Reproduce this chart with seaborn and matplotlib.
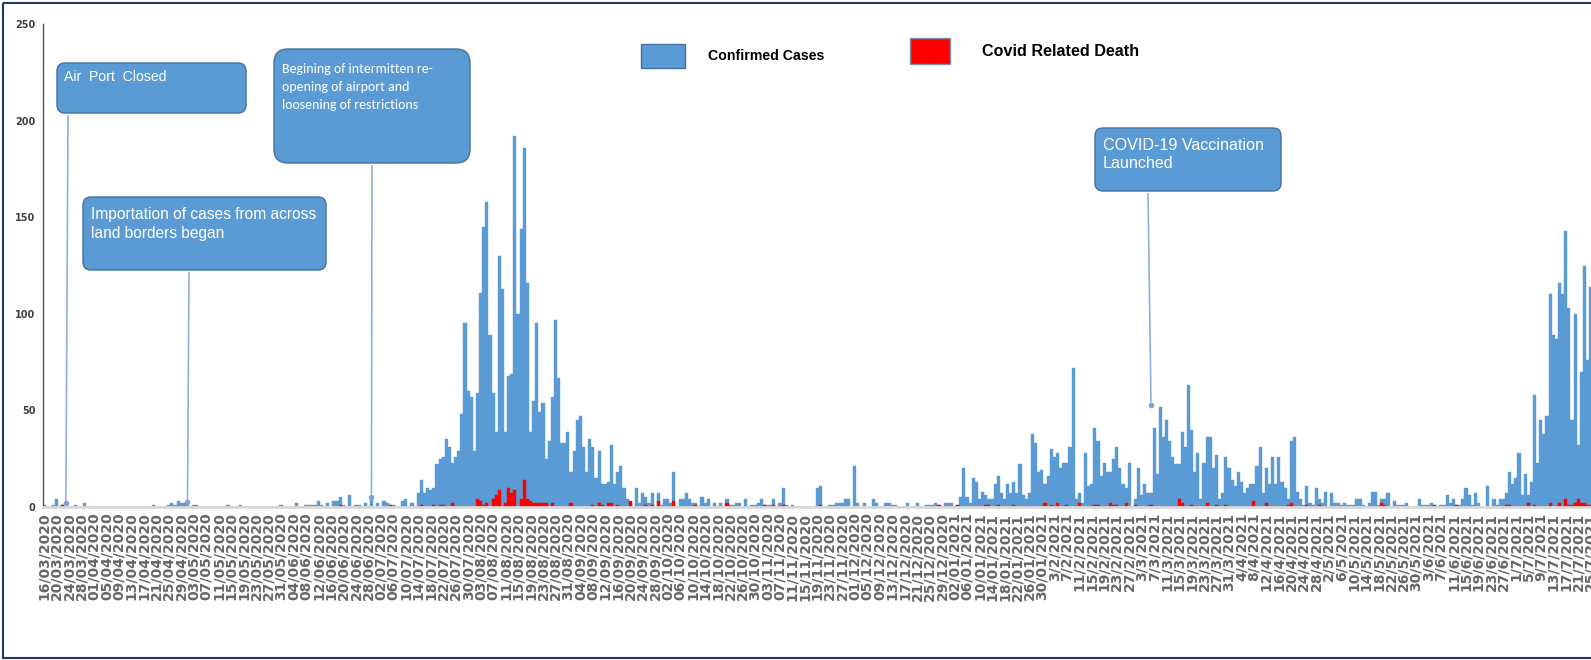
import numpy as np
import pandas as pd
import matplotlib
matplotlib.use("Agg")
import matplotlib.pyplot as plt
from matplotlib import font_manager
import seaborn as sns
from matplotlib.patches import FancyBboxPatch, Rectangle

sns.set_theme(style="white")
plt.rcParams['font.family'] = ['Liberation Sans', 'DejaVu Sans']

BLUE = '#5B9BD5'
BLUE_EDGE = '#41719C'
RED = '#FF0000'
W, H = 1591, 660

installed = {f.name for f in font_manager.fontManager.ttflist}
CALIBRI = 'Carlito' if 'Carlito' in installed else 'Liberation Sans'

# daily confirmed cases, one value per day from 16/03/2020
cases = [
    1, 0, 0, 1, 4, 0, 1, 0, 0, 0, 1, 0, 0, 2, 0, 0, 0, 0, 0, 0,              # 0
    0, 0, 0, 0, 0, 0, 0, 0, 0, 0, 0, 0, 0, 0, 0, 1, 0, 0, 0, 0,              # 20
    1, 2, 1, 3, 2, 2, 1, 0, 1, 1, 0, 0, 0, 0, 0, 0, 0, 0, 0, 1,              # 40
    0, 0, 0, 1, 0, 0, 0, 0, 0, 0, 0, 0, 0, 0, 0, 0, 1, 0, 0, 0,              # 60
    0, 2, 0, 0, 1, 1, 1, 1, 3, 1, 0, 2, 0, 3, 3, 5, 1, 0, 6, 0,              # 80
    1, 1, 0, 2, 0, 4, 0, 2, 0, 3, 2, 1, 1, 0, 0, 3, 4, 0, 2, 0,              # 100
    7, 14, 7, 10, 9, 10, 22, 25, 26, 35, 31, 23, 26, 29, 48, 95, 60, 57, 29, 59,   # 120
    111, 145, 158, 89, 59, 39, 130, 113, 39, 68, 69, 192, 100, 144, 186, 116, 39, 55, 95, 49,  # 140
    54, 25, 34, 57, 97, 67, 33, 33, 39, 18, 29, 45, 47, 31, 18, 35, 31, 15, 29, 12,  # 160
    12, 13, 32, 12, 18, 21, 10, 4, 2, 0, 10, 2, 7, 5, 2, 7, 0, 7, 1, 4,      # 180
    4, 2, 18, 0, 4, 4, 7, 4, 2, 2, 0, 5, 2, 4, 0, 2, 0, 2, 0, 4,             # 200
    1, 1, 2, 2, 0, 4, 0, 1, 1, 2, 4, 1, 1, 1, 4, 0, 2, 10, 1, 0,             # 220
    1, 0, 0, 0, 0, 0, 0, 0, 10, 11, 0, 0, 1, 1, 2, 2, 2, 4, 4, 0,            # 240
    21, 2, 0, 2, 0, 0, 4, 2, 0, 0, 2, 2, 1, 1, 0, 0, 0, 2, 0, 0,             # 260
    2, 0, 0, 1, 1, 1, 2, 1, 0, 2, 2, 2, 0, 1, 5, 20, 5, 2, 15, 13,           # 280
    4, 8, 6, 4, 4, 12, 16, 7, 4, 12, 7, 13, 7, 22, 6, 4, 7, 38, 33, 18,      # 300
    19, 12, 16, 30, 26, 28, 20, 23, 23, 31, 72, 4, 7, 2, 28, 11, 12, 41, 34, 16,   # 320
    23, 18, 18, 25, 31, 20, 12, 10, 23, 0, 4, 20, 6, 12, 7, 7, 41, 17, 52, 36,     # 340
    45, 34, 26, 22, 22, 39, 31, 63, 40, 18, 28, 4, 23, 36, 36, 20, 27, 4, 7, 26,   # 360
    20, 14, 11, 18, 13, 7, 10, 12, 12, 21, 31, 7, 20, 12, 26, 12, 26, 13, 10, 4,   # 380
    34, 36, 8, 4, 1, 11, 2, 1, 10, 4, 2, 8, 0, 7, 2, 2, 1, 2, 1, 1,          # 400
    1, 4, 4, 1, 0, 2, 8, 8, 1, 4, 4, 7, 0, 3, 1, 1, 1, 2, 0, 0,              # 420
    0, 4, 1, 1, 1, 2, 1, 0, 1, 1, 6, 2, 4, 1, 1, 4, 10, 6, 1, 7,             # 440
    2, 0, 0, 11, 0, 4, 1, 4, 4, 7, 18, 12, 15, 28, 6, 17, 6, 13, 58, 23,     # 460
    45, 38, 47, 110, 89, 87, 116, 110, 143, 103, 45, 100, 32, 70, 125, 76, 114,    # 480
]

# covid related deaths: day number (from 16/03/2020) and count
death_days = [6, 95, 111, 121, 125, 127, 128, 131, 139, 140, 141, 142, 144, 145, 146,
              148, 149, 150, 151, 153, 154, 155, 156, 157, 158, 159, 160, 161, 163, 169,
              176, 178, 179, 181, 182, 184, 188, 193, 195, 197, 202, 209, 219, 231, 234,
              237, 249, 287, 293, 302, 303, 306, 311, 321, 323, 325, 328, 332, 337, 338,
              342, 343, 344, 347, 350, 355, 364, 365, 368, 373, 376, 379, 388, 392, 399,
              400, 405, 409, 429, 430, 446, 453, 469, 470, 476, 478, 483, 486, 488, 489,
              490, 491, 492, 493, 494, 495, 496]
death_counts = [1, 1, 1, 1, 1, 1, 1, 2, 4, 3, 1, 2, 4, 6, 9,
                2, 10, 7, 9, 4, 14, 4, 3, 2, 2, 2, 2, 2, 2, 2,
                1, 2, 1, 2, 2, 1, 3, 1, 1, 3, 3, 1, 2, 1, 1,
                1, 1, 1, 1, 1, 1, 1, 1, 2, 1, 2, 1, 2, 1, 1,
                2, 1, 1, 2, 1, 1, 4, 2, 1, 2, 1, 1, 3, 2, 1,
                2, 1, 1, 2, 1, 1, 1, 1, 1, 2, 1, 2, 2, 4, 1,
                1, 2, 4, 2, 2, 1, 1]

y_ticks = [0, 50, 100, 150, 200, 250]

notes = [
    # text, day, value pointed at, box (x, y, w, h) in pixels from top-left,
    # font, size, line spacing, text offset (dx, dy), pointer x
    ("Air  Port  Closed", 7, 2, (57, 63, 189, 50), 'Liberation Sans', 10.1, 1.2, (7, 7), 68),
    ("Importation of cases from across\nland borders began", 46, 2.6, (83, 197, 243, 73),
     'Liberation Sans', 11.2, 1.32, (8, 10), 189),
    ("Begining of intermitten re-\nopening of airport and\nloosening of restrictions", 105, 5.3,
     (274, 49, 196, 114), CALIBRI, 10, 1.6, (8, 14), 372),
    ("COVID-19 Vaccination\nLaunched", 355, 53, (1095, 128, 186, 63), 'Liberation Sans', 11.6, 1.27,
     (8, 10), 1148),
]

n = len(cases)
days = pd.date_range('2020-03-16', periods=n)
deaths = np.zeros(n, dtype=int)
deaths[death_days] = death_counts
df = pd.DataFrame({'day': np.arange(n), 'cases': cases, 'deaths': deaths})

fig = plt.figure(figsize=(W / 100, H / 100), dpi=100)
ax = fig.add_axes([42.5 / W, (H - 507) / H, (W - 42.5) / W, (507 - 24) / H])

sns.barplot(data=df, x='day', y='cases', color=BLUE, saturation=1, width=1.0,
            errorbar=None, edgecolor=BLUE, linewidth=0.3, ax=ax)
sns.barplot(data=df, x='day', y='deaths', color=RED, saturation=1, width=1.0,
            errorbar=None, edgecolor=RED, linewidth=0.3, ax=ax)

ax.set_xlim(-0.5, 496.1)
ax.set_ylim(0, 250)
ax.set_xlabel('')
ax.set_ylabel('')

tick_pos = list(range(0, n, 4))
tick_lab = []
for p in tick_pos:
    d = days[p]
    if d < pd.Timestamp('2021-02-01'):
        tick_lab.append(d.strftime('%d/%m/%Y'))
    else:
        tick_lab.append(f"{d.day}/{d.month}/{d.year}")
ax.set_xticks(tick_pos)
ax.set_xticklabels(tick_lab, rotation=90, fontsize=10, fontweight='bold', color='#666666',
                   family='DejaVu Sans')
ax.set_yticks(y_ticks)
ax.set_yticklabels([str(v) for v in y_ticks], fontsize=7, fontweight='bold', color='#404040',
                   family='DejaVu Sans')
ax.tick_params(axis='x', length=0, pad=4)
ax.tick_params(axis='y', direction='in', length=3, width=1, color='#44546A', pad=5)

for s in ['top', 'right']:
    ax.spines[s].set_visible(False)
ax.spines['left'].set_color('#44546A')
ax.spines['left'].set_linewidth(1)
ax.spines['bottom'].set_color('#D9D9D9')
ax.spines['bottom'].set_linewidth(2)
ax.grid(False)

# overlay in pixel coordinates for boxes, legend and frame
ov = fig.add_axes([0, 0, 1, 1], zorder=5)
ov.set_xlim(0, W)
ov.set_ylim(H, 0)
ov.axis('off')
ov.add_patch(Rectangle((2.5, 2.5), W + 10, 655, fill=False, edgecolor='#1F3864', lw=1.5))

for text, day, val, (bx, by, bw, bh), fam, size, ls, (dx, dy), px in notes:
    ax.annotate('', xy=(day, val), xycoords='data',
                xytext=(px, H - by - bh), textcoords='figure pixels',
                arrowprops=dict(arrowstyle='-', color='#8FB0E0', lw=1.2), annotation_clip=False)
    ax.plot([day], [val], 'o', color='#7FA3D9', ms=3, clip_on=False)
    rad = 14 if bh > 100 else 8
    ov.add_patch(FancyBboxPatch((bx + rad, by + rad), bw - 2 * rad, bh - 2 * rad,
                                boxstyle=f"round,pad={rad},rounding_size={rad}",
                                facecolor=BLUE, edgecolor=BLUE_EDGE, lw=1))
    ov.text(bx + dx, by + dy, text, color='white', fontsize=size, va='top', ha='left',
            family=[fam, 'Liberation Sans', 'DejaVu Sans'], linespacing=ls)

# legend
ov.add_patch(Rectangle((641, 44), 44, 24, facecolor=BLUE, edgecolor=BLUE_EDGE, lw=1))
ov.text(708, 56, 'Confirmed Cases', fontsize=10.2, fontweight='bold', va='center', ha='left',
        color='black')
ov.add_patch(Rectangle((910, 38), 40, 26, facecolor=RED, edgecolor='#7F8FA9', lw=1))
ov.text(982, 51, 'Covid Related Death', fontsize=11.6, fontweight='bold', va='center', ha='left',
        color='black')

fig.savefig('out.png', dpi=100)
